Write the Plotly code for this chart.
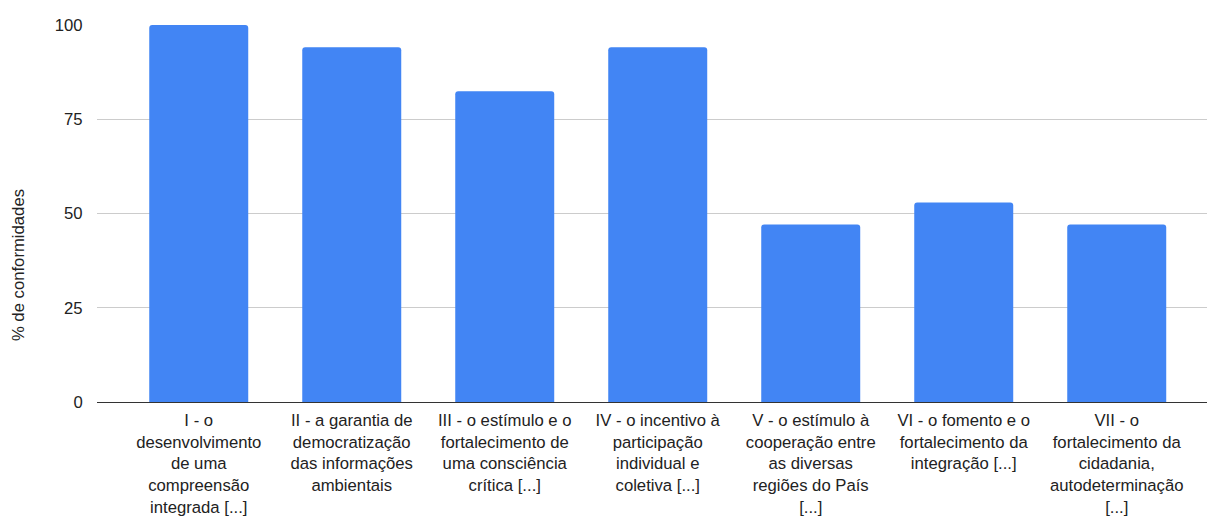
import plotly.graph_objects as go

# Categories (axis labels, pre-wrapped) and percentage of conformities
categories = [
    "I - o<br>desenvolvimento<br>de uma<br>compreensão<br>integrada [...]",
    "II - a garantia de<br>democratização<br>das informações<br>ambientais",
    "III - o estímulo e o<br>fortalecimento de<br>uma consciência<br>crítica [...]",
    "IV - o incentivo à<br>participação<br>individual e<br>coletiva [...]",
    "V - o estímulo à<br>cooperação entre<br>as diversas<br>regiões do País<br>[...]",
    "VI - o fomento e o<br>fortalecimento da<br>integração [...]",
    "VII - o<br>fortalecimento da<br>cidadania,<br>autodeterminação<br>[...]",
]
conformidades = [100.0, 94.1, 82.4, 94.1, 47.1, 52.9, 47.1]
y_ticks = [0, 25, 50, 75, 100]
y_title = "% de conformidades"

FONT = "Liberation Sans, Arial, sans-serif"
TEXT = "#222222"
SIZE = 16.7

fig = go.Figure(
    go.Bar(
        x=list(range(len(categories))),
        y=conformidades,
        marker=dict(color="#4285F4", line=dict(width=0)),
        hoverinfo="y",
    )
)

fig.update_layout(
    width=1208,
    height=516,
    margin=dict(l=97, r=1, t=25, b=114),
    paper_bgcolor="white",
    plot_bgcolor="white",
    bargap=0.353,
    barcornerradius=3,
    showlegend=False,
    font=dict(family=FONT, size=SIZE, color=TEXT),
)

fig.update_xaxes(
    tickmode="array",
    tickvals=list(range(len(categories))),
    ticktext=categories,
    range=[-0.665, 6.59],
    automargin=False,
    showgrid=False,
    showline=True,
    linecolor="#333333",
    linewidth=1,
    ticks="outside",
    ticklen=3,
    tickcolor="rgba(0,0,0,0)",
    tickfont=dict(family=FONT, size=SIZE, color=TEXT),
    zeroline=False,
)

fig.update_yaxes(
    range=[0, 100],
    tickmode="array",
    tickvals=y_ticks,
    automargin=False,
    showgrid=True,
    gridcolor="#cccccc",
    gridwidth=1,
    zeroline=False,
    showline=False,
    ticks="outside",
    ticklen=10,
    tickcolor="rgba(0,0,0,0)",
    tickfont=dict(family=FONT, size=SIZE, color=TEXT),
)

# Rotated y-axis title
fig.add_annotation(
    text=y_title,
    xref="paper",
    yref="paper",
    x=-0.0712,
    y=0.363,
    xanchor="center",
    yanchor="middle",
    textangle=-90,
    showarrow=False,
    font=dict(family=FONT, size=SIZE, color=TEXT),
)

fig.write_html("out.html")
